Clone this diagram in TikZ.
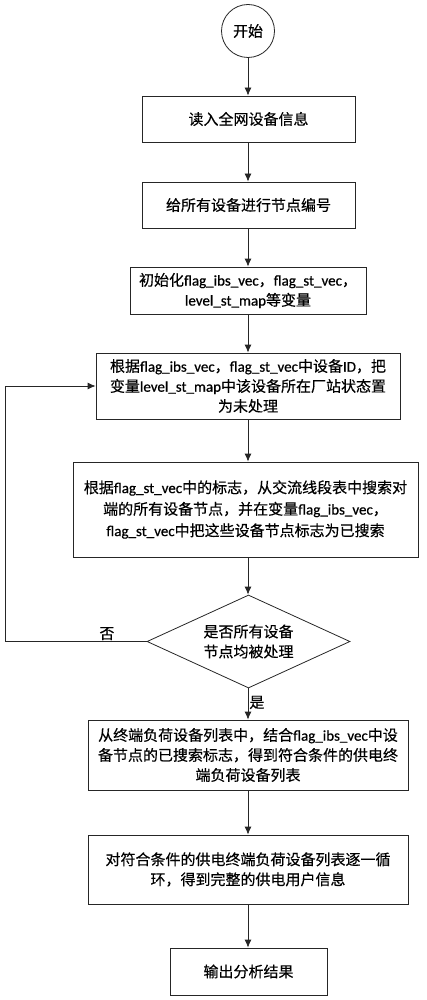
\documentclass[tikz,border=0pt]{standalone}
\usepackage{fontspec}
\setmainfont{Noto Sans CJK SC}[FakeBold=0.4]
\newfontfamily\lat{Carlito}[FakeBold=0.6]
\usetikzlibrary{shapes.geometric,arrows.meta}
\newcommand\la[1]{{\lat #1}}
\begin{document}
\begin{tikzpicture}[x=1pt,y=-1pt,
  every node/.style={font=\fontsize{15}{20}\selectfont, text=black},
  box/.style={draw=black!85, line width=0.8pt, rectangle, inner sep=0pt, align=center},
  dec/.style={draw=black!85, line width=0.8pt, diamond, inner sep=0pt, aspect=2.18, align=center},
  term/.style={draw=black!85, line width=0.8pt, circle, inner sep=0pt, minimum size=53pt},
  arr/.style={draw=black!85, line width=0.8pt, -{Latex[length=8pt,width=7pt]}},
  lbl/.style={inner sep=1pt}]
\useasboundingbox (0,0) rectangle (427,1000);
\coordinate (ax) at (248,0);
\node[term] (start) at (248,31) {开始};
\node[box, minimum width=213pt, minimum height=46pt] (b1) at (248.5,119) {读入全网设备信息};
\node[box, minimum width=213pt, minimum height=46pt] (b2) at (248.5,205) {给所有设备进行节点编号};
\node[box, minimum width=236pt, minimum height=47pt] (b3) at (248,290.5)
  {初始化\la{flag\_ibs\_vec}，\la{flag\_st\_vec}，\\\la{level\_st\_map}等变量};
\node[box, minimum width=304pt, minimum height=66pt] (b4) at (248,386)
  {根据\la{flag\_ibs\_vec}，\la{flag\_st\_vec}中设备\la{ID}，把\\变量\la{level\_st\_map}中该设备所在厂站状态置\\为未处理};
\node[box, minimum width=345pt, minimum height=95pt, font=\fontsize{15}{21.5}\selectfont] (b5) at (245.5,509.5)
  {根据\la{flag\_st\_vec}中的标志，从交流线段表中搜索对\\端的所有设备节点，并在变量\la{flag\_ibs\_vec}，\\\la{flag\_st\_vec}中把这些设备节点标志为已搜索};
\node[dec, minimum width=203pt, minimum height=93pt] (d) at (248.5,641.5) {是否所有设备\\节点均被处理};
\node[box, minimum width=320pt, minimum height=70pt] (b6) at (248,755)
  {从终端负荷设备列表中，结合\la{flag\_ibs\_vec}中设\\备节点的已搜索标志，得到符合条件的供电终\\端负荷设备列表};
\node[box, minimum width=320pt, minimum height=69pt] (b7) at (248,869.5)
  {对符合条件的供电终端负荷设备列表逐一循\\环，得到完整的供电用户信息};
\node[box, minimum width=157pt, minimum height=47pt] (b8) at (248.5,971.5) {输出分析结果};
\coordinate (lp) at (5,0);
\draw[arr] (start.south) -- (b1.north -| ax);
\draw[arr] (b1.south -| ax) -- (b2.north -| ax);
\draw[arr] (b2.south -| ax) -- (b3.north -| ax);
\draw[arr] (b3.south -| ax) -- (b4.north -| ax);
\draw[arr] (b4.south -| ax) -- (b5.north -| ax);
\draw[arr] (b5.south -| ax) -- (d.north -| ax);
\draw[arr] (d.south -| ax) -- node[lbl, right, pos=0.45] {是} (b6.north -| ax);
\draw[arr] (b6.south -| ax) -- (b7.north -| ax);
\draw[arr] (b7.south -| ax) -- (b8.north -| ax);
\draw[arr] (d.west) -- node[lbl, above, pos=0.28] {否} (d.west -| lp) -- (b4.west -| lp) -- (b4.west);
\end{tikzpicture}
\end{document}
